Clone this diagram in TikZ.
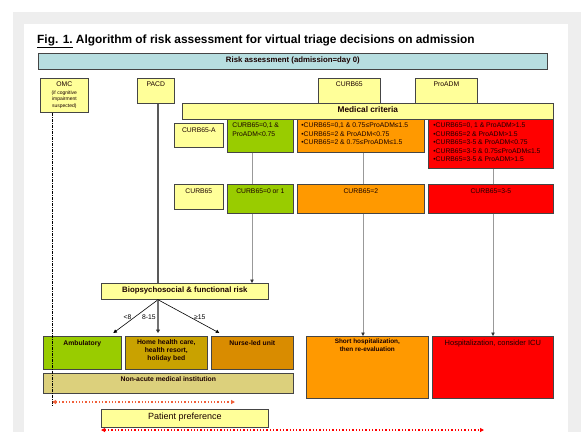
\documentclass[tikz,border=0pt]{standalone}
\usepackage{fontspec}
\setmainfont{Liberation Sans}
\usepackage{xcolor}
\usetikzlibrary{arrows.meta}

\definecolor{pagegray}{HTML}{EEEEEE}
\definecolor{boxline}{HTML}{454545}
\definecolor{cellyellow}{HTML}{FFFF99}
\definecolor{cellcyan}{HTML}{B7DEE0}
\definecolor{cellgreen}{HTML}{99CC00}
\definecolor{cellorange}{HTML}{FF9900}
\definecolor{cellred}{HTML}{FF0000}
\definecolor{cellgold}{HTML}{C9A200}
\definecolor{celldarkorange}{HTML}{D98C00}
\definecolor{cellkhaki}{HTML}{DCD07C}
\definecolor{prefred}{HTML}{F0603A}
\definecolor{celltextdark}{HTML}{1A0000}

% box content: width, height, text (top aligned)
\newcommand{\celltext}[4][3.5pt]{\parbox[c][#3][t]{#2}{\vspace*{#1}#4}}

\begin{document}
\begin{tikzpicture}[x=1pt, y=-1pt,
    cell/.style={draw=boxline, line width=0.7pt, inner sep=0pt, anchor=north west,
        text=celltextdark, font=\fontsize{6.8}{8.5}\selectfont},
    link/.style={draw=gray!80, line width=0.8pt},
    linkarrow/.style={link, -{Triangle[length=3.5pt, width=3.5pt, color=black!80]}},
    riskarrow/.style={line width=0.6pt, -{Triangle[length=3.5pt, width=3.5pt]}},
    tag/.style={font=\fontsize{6.8}{8}\selectfont, inner sep=1pt}]
    \fill[white] (0,0) rectangle (581,432);
    \fill[pagegray] (13,12) rectangle (581,432);
    \fill[white] (24,24) rectangle (568,432);
    \useasboundingbox (0,0) rectangle (581,432);

    \node[anchor=base west, inner sep=0pt, font=\bfseries\fontsize{11.9}{13}\selectfont] (title) at (37,43)
        {\underline{Fig. 1.} Algorithm of risk assessment for virtual triage decisions on admission};

    \node[cell, fill=cellcyan, font=\bfseries\fontsize{7.8}{9}\selectfont] (risk) at (38,53)
        {\celltext{509pt}{16pt}{\centering Risk assessment (admission=day 0)}};

    \node[cell, fill=cellyellow] (omc) at (40,78)
        {\celltext{48pt}{34pt}{\centering OMC\par\vspace{1pt}{\fontsize{5}{6.5}\selectfont (if cognitive\\impairment\\suspected)\par}}};
    \node[cell, fill=cellyellow] (pacd) at (137,78) {\celltext{37pt}{25pt}{\centering PACD}};
    \node[cell, fill=cellyellow] (curb) at (318,78) {\celltext{62pt}{25pt}{\centering CURB65}};
    \node[cell, fill=cellyellow] (proadm) at (415,78) {\celltext{62pt}{25pt}{\centering ProADM}};
    \node[cell, fill=cellyellow, font=\bfseries\fontsize{8.3}{9}\selectfont] (medcrit) at (182,103)
        {\celltext{371pt}{16pt}{\centering Medical criteria}};

    \node[cell, fill=cellyellow] (labA) at (174,123) {\celltext[4.5pt]{49pt}{24pt}{\centering CURB65-A}};
    \node[cell, fill=cellgreen] (crA1) at (227,119)
        {\celltext{66pt}{33pt}{\raggedright\leftskip=5pt CURB65=0,1 \&\\ProADM<0.75}};
    \node[cell, fill=cellorange] (crA2) at (297,119)
        {\celltext{127pt}{33pt}{\raggedright\leftskip=4pt •CURB65=0,1 \& 0.75≤ProADM≤1.5\\•CURB65=2 \& ProADM<0.75\\•CURB65=2 \& 0.75≤ProADM≤1.5}};
    \node[cell, fill=cellred] (crA3) at (428,119)
        {\celltext{125pt}{49pt}{\raggedright\leftskip=5pt •CURB65=0, 1 \& ProADM>1.5\\•CURB65=2 \& ProADM>1.5\\•CURB65=3-5 \& ProADM<0.75\\•CURB65=3-5 \& 0.75≤ProADM≤1.5\\•CURB65=3-5 \& ProADM>1.5}};

    \node[cell, fill=cellyellow] (labB) at (174,184) {\celltext[4.5pt]{49pt}{25pt}{\centering CURB65}};
    \node[cell, fill=cellgreen] (crB1) at (227,184) {\celltext[4.5pt]{66pt}{29pt}{\centering CURB65=0 or 1}};
    \node[cell, fill=cellorange] (crB2) at (297,184) {\celltext[4.5pt]{127pt}{29pt}{\centering CURB65=2}};
    \node[cell, fill=cellred] (crB3) at (428,184) {\celltext[4.5pt]{125pt}{29pt}{\centering CURB65=3-5}};

    \node[cell, fill=cellyellow, font=\bfseries\fontsize{7.8}{9}\selectfont] (bio) at (101,283)
        {\celltext{167pt}{16pt}{\centering Biopsychosocial \& functional risk}};

    \node[cell, fill=cellgreen, font=\bfseries\fontsize{6.8}{8}\selectfont] (amb) at (43,336)
        {\celltext[4pt]{78pt}{33pt}{\centering Ambulatory}};
    \node[cell, fill=cellgold, font=\bfseries\fontsize{6.8}{8}\selectfont] (home) at (125,336)
        {\celltext[3pt]{82pt}{33pt}{\centering Home health care,\\health resort,\\holiday bed}};
    \node[cell, fill=celldarkorange, font=\bfseries\fontsize{6.8}{8}\selectfont] (nurse) at (211,336)
        {\celltext[4pt]{82pt}{33pt}{\centering Nurse-led unit}};
    \node[cell, fill=cellkhaki, font=\bfseries\fontsize{6.8}{8}\selectfont] (nonacute) at (43,373)
        {\celltext{250pt}{20pt}{\centering Non-acute medical institution}};

    \node[cell, fill=cellorange, font=\bfseries\fontsize{6.4}{7.5}\selectfont] (shorthosp) at (306,336)
        {\celltext[3pt]{122pt}{62pt}{\centering Short hospitalization,\\then re-evaluation}};
    \node[cell, fill=cellred, font=\fontsize{7.5}{9}\selectfont] (hosp) at (432,336)
        {\celltext[3.5pt]{121pt}{62pt}{\centering Hospitalization, consider ICU}};

    \node[cell, fill=cellyellow, font=\fontsize{9}{10}\selectfont] (pref) at (101,409)
        {\celltext[4pt]{167pt}{18pt}{\centering Patient preference}};

    \coordinate (omcx) at (52,406);
    \coordinate (pacdx) at (158,0);
    \coordinate (greenx) at (252,0);
    \coordinate (orangex) at (363,0);
    \coordinate (redx) at (493,0);

    \draw[line width=0.8pt, dash pattern=on 3pt off 1pt on 1pt off 1pt] (omc.south -| omcx) -- (omcx);
    \draw[draw=black!65, line width=1.5pt] (pacd.south -| pacdx) -- (bio.north -| pacdx);

    \draw[link] (crA1.south -| greenx) -- (crB1.north -| greenx);
    \draw[linkarrow] (crB1.south -| greenx) -- (bio.north -| greenx);
    \draw[link] (crA2.south -| orangex) -- (crB2.north -| orangex);
    \draw[linkarrow] (crB2.south -| orangex) -- (shorthosp.north -| orangex);
    \draw[link] (crA3.south -| redx) -- (crB3.north -| redx);
    \draw[linkarrow] (crB3.south -| redx) -- (hosp.north -| redx);

    \draw[riskarrow] (bio.south -| pacdx) -- node[tag, pos=0.52, left=2pt] {<8} ([xshift=31pt, yshift=3pt]amb.north);
    \draw[draw=black!55, line width=1.5pt, -{Triangle[length=3.5pt, width=4pt, color=black!80]}]
        (bio.south -| pacdx) -- node[tag, pos=0.52, left=0.5pt] {8-15} ([yshift=3pt]home.north -| pacdx);
    \draw[riskarrow] (bio.south -| pacdx) -- node[tag, pos=0.52, right=3pt] {≥15} ([xshift=-33pt, yshift=3pt]nurse.north);

    \coordinate (prefa) at (52,402);
    \coordinate (prefb) at (235,402);
    \draw[draw=prefred, line width=1.3pt, dotted, {Triangle[length=4pt, width=4pt]}-{Triangle[length=4pt, width=4pt]}] (prefa) -- (prefb);
    \coordinate (prefc) at (101,430);
    \coordinate (prefd) at (484,430);
    \draw[draw=red, line width=1.3pt, dotted, {Triangle[length=4pt, width=4pt]}-{Triangle[length=4pt, width=4pt]}] (prefc) -- (prefd);
\end{tikzpicture}
\end{document}
